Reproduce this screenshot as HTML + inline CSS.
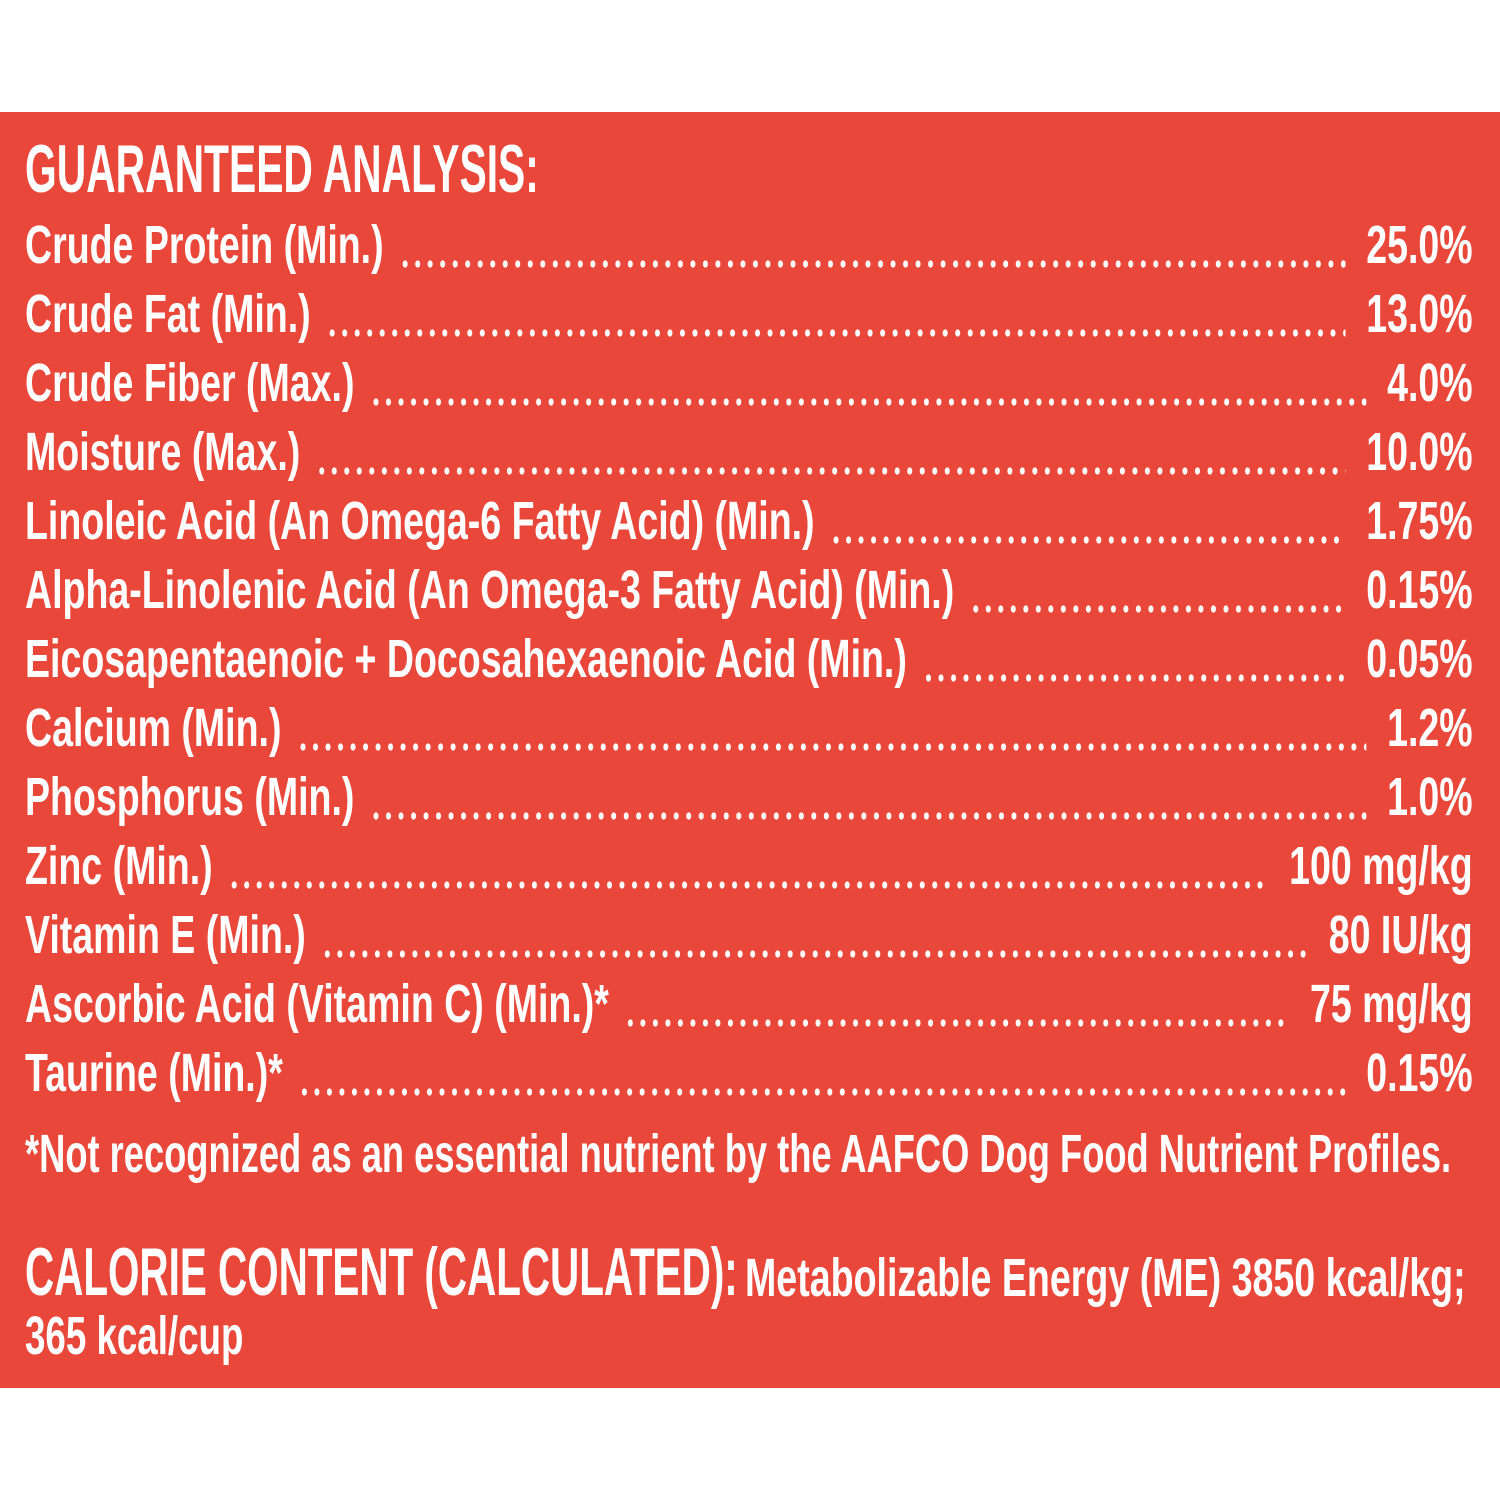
<!DOCTYPE html>
<html><head><meta charset="utf-8">
<style>
html,body{margin:0;padding:0;background:#fff;}
body{width:1500px;height:1500px;position:relative;overflow:hidden;font-family:"Liberation Sans",sans-serif;}
#panel{position:absolute;left:0;top:112px;width:1500px;height:1276px;background:#e8473a;}
.s{position:absolute;left:25px;transform-origin:0 0;color:#fff;white-space:nowrap;font-weight:bold;}
.row{transform:scaleX(0.695);width:2083px;display:flex;align-items:flex-end;font-size:54px;height:69px;line-height:69px;}
.row .lab{flex:none;}
.row .dots{flex:1;height:69px;margin:0 30px 0 22px;background-image:radial-gradient(circle,#fff 3.3px,transparent 3.9px);background-size:18px 8px;background-repeat:repeat-x;background-position:0 49px;}
.row .val{flex:none;}
.title{font-size:68px;top:130px;transform:scaleX(0.60);}
</style></head><body>
<div id="panel"></div>
<div class="s title">GUARANTEED ANALYSIS:</div>
<div id="rows"></div>
<div class="s" style="top:1120px;font-size:54px;line-height:69px;transform:scaleX(0.672);">*Not recognized as an essential nutrient by the AAFCO Dog Food Nutrient Profiles.</div>
<div class="s" style="top:1236px;line-height:72px;font-size:68px;transform:scaleX(0.594);">CALORIE CONTENT (CALCULATED):</div>
<div class="s" style="left:745px;top:1242px;line-height:72px;font-size:54px;transform:scaleX(0.696);">Metabolizable Energy (ME) 3850 kcal/kg;</div>
<div class="s" style="top:1302px;font-size:54px;line-height:69px;transform:scaleX(0.68);">365 kcal/cup</div>
<script>
const labels=["Crude Protein (Min.)","Crude Fat (Min.)","Crude Fiber (Max.)","Moisture (Max.)","Linoleic Acid (An Omega-6 Fatty Acid) (Min.)","Alpha-Linolenic Acid (An Omega-3 Fatty Acid) (Min.)","Eicosapentaenoic + Docosahexaenoic Acid (Min.)","Calcium (Min.)","Phosphorus (Min.)","Zinc (Min.)","Vitamin E (Min.)","Ascorbic Acid (Vitamin C) (Min.)*","Taurine (Min.)*"];
const values=["25.0%","13.0%","4.0%","10.0%","1.75%","0.15%","0.05%","1.2%","1.0%","100 mg/kg","80 IU/kg","75 mg/kg","0.15%"];
const host=document.getElementById('rows');
labels.forEach((l,i)=>{
  const r=document.createElement('div');
  r.className='s row';
  r.style.top=(211+i*69)+'px';
  
  
  const a=document.createElement('span');a.className='lab';a.textContent=l;
  
  
  const d=document.createElement('span');d.className='dots';
  
  
  const v=document.createElement('span');v.className='val';v.textContent=values[i];
  
  
  r.append(a,d,v);host.appendChild(r);
});
</script>
</body></html>
